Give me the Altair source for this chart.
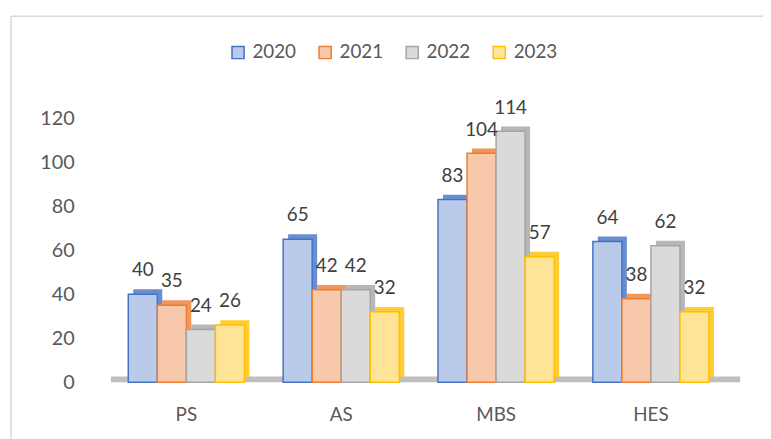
import altair as alt
import pandas as pd

categories = ["PS", "AS", "MBS", "HES"]
years = ["2020", "2021", "2022", "2023"]
v2020 = [40, 65, 83, 64]
v2021 = [35, 42, 104, 38]
v2022 = [24, 42, 114, 62]
v2023 = [26, 32, 57, 32]
y_ticks = [0, 20, 40, 60, 80, 100, 120]

edge_colors = ["#4472C4", "#ED7D31", "#A5A5A5", "#FFC000"]
fill_colors = ["#BACBEA", "#F7C9AA", "#DADADA", "#FFE497"]

rows = []
for yr, vals in zip(years, [v2020, v2021, v2022, v2023]):
    for c, v in zip(categories, vals):
        rows.append({"cat": c, "year": yr, "value": v})
df = pd.DataFrame(rows)

W, H = 626, 267
FONT = "Lato"
band = W / 4 * 0.75
D = 5

x_enc = alt.X(
    "cat:N", sort=categories,
    scale=alt.Scale(paddingInner=0.25, paddingOuter=0.125),
    axis=alt.Axis(title=None, labelAngle=0, domain=False, ticks=False,
                  labelPadding=24, labelFontSize=19, labelColor="#595959",
                  labelFont=FONT, grid=False),
)
y_enc = alt.Y(
    "value:Q", scale=alt.Scale(domain=[0, 120], nice=False),
    axis=alt.Axis(title=None, values=y_ticks, domain=False, ticks=False,
                  grid=False, labelPadding=35, labelFontSize=20,
                  labelColor="#595959", labelFont=FONT),
)

base = alt.Chart(df)

floor = alt.Chart(pd.DataFrame({"z": [0]})).mark_rule(
    color="#BFBFBF", strokeWidth=6, yOffset=-3
).encode(y=alt.datum(0), x=alt.value(2), x2=alt.value(W + 12))

back = base.mark_bar(yOffset=-D, opacity=0.8).encode(
    x=x_enc,
    xOffset=alt.XOffset("year:N", sort=years,
                        scale=alt.Scale(type="band", range=[D, band + D],
                                        paddingInner=0, paddingOuter=0)),
    y=y_enc,
    fill=alt.Fill("year:N", sort=years,
                  scale=alt.Scale(domain=years, range=edge_colors), legend=None),
)

stroke_expr = ("datum.value == '2020' ? '#4472C4' : datum.value == '2021' ? '#ED7D31'"
               " : datum.value == '2022' ? '#A5A5A5' : '#FFC000'")

front = base.mark_bar(strokeWidth=1.5).encode(
    x=x_enc,
    xOffset=alt.XOffset("year:N", sort=years,
                        scale=alt.Scale(type="band", range=[0, band],
                                        paddingInner=0, paddingOuter=0)),
    y=y_enc,
    fill=alt.Fill("year:N", sort=years,
                  scale=alt.Scale(domain=years, range=fill_colors),
                  legend=alt.Legend(
                      title=None, orient="none", legendX=121, legendY=-76,
                      direction="horizontal", symbolType="square",
                      symbolSize=150, symbolStrokeWidth=1.5,
                      symbolStrokeColor=alt.ExprRef(expr=stroke_expr),
                      labelFontSize=19, labelFont=FONT, labelColor="#595959",
                      columnPadding=19, labelOffset=5,
                  )),
    stroke=alt.Stroke("year:N", sort=years,
                      scale=alt.Scale(domain=years, range=edge_colors),
                      legend=None),
)

labels = base.mark_text(
    dy=-18, baseline="alphabetic", fontSize=19, color="#404040", font=FONT
).encode(
    x=x_enc,
    xOffset=alt.XOffset("year:N", sort=years, bandPosition=0.5,
                        scale=alt.Scale(type="band", range=[0, band],
                                        paddingInner=0, paddingOuter=0)),
    y=y_enc,
    text=alt.Text("value:Q"),
)

one = pd.DataFrame({"z": [0]})
border_left = alt.Chart(one).mark_rule(color="#D9D9D9", strokeWidth=1.5).encode(
    x=alt.value(-99), y=alt.value(-103), y2=alt.value(330)
)
border_top = alt.Chart(one).mark_rule(color="#D9D9D9", strokeWidth=1.5).encode(
    x=alt.value(-99), x2=alt.value(670), y=alt.value(-103)
)

chart = alt.layer(
    border_left, border_top, floor, back, front, labels
).resolve_scale(
    fill="independent", xOffset="independent"
).properties(
    width=W, height=H,
    autosize=alt.AutoSizeParams(type="none"),
    padding={"left": 102, "top": 109, "right": 35, "bottom": 55},
    view=alt.ViewBackground(stroke="transparent"),
).configure_view(
    stroke="transparent"
).configure(background="white")

chart.save("out.html", embed_options={"renderer": "svg", "actions": False})
